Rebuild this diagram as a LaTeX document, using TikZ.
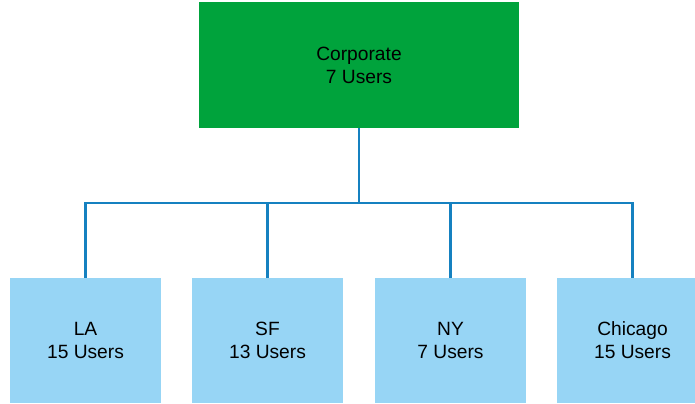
\documentclass[tikz,border=0pt]{standalone}
\usepackage{fontspec}
\setmainfont{Liberation Sans}
\usetikzlibrary{
positioning
}
\definecolor{HQgreen}{HTML}{00A33C}
\definecolor{SiteBlue}{HTML}{97D5F5}
\definecolor{LinkBlue}{HTML}{1581C0}

\tikzset{
    hqbox/.style={
        fill=HQgreen,
        minimum width=240pt,
        minimum height=94.5pt,
        inner sep=0pt,
        align=center
    },
    sitebox/.style={
        fill=SiteBlue,
        minimum width=113.25pt,
        minimum height=93.75pt,
        inner sep=0pt,
        align=center
    },
    link/.style={
        line width=1.6pt,
        draw=LinkBlue
    }
}

\begin{document}
\begin{tikzpicture}[
    x=0.75pt,
    y=-0.75pt,
    font=\fontsize{14.4}{17.3}\selectfont
]

\useasboundingbox (0,0) rectangle (695,403);

% Head office
\node[hqbox]
(corp) at (359,65)
{Corporate\\7 Users};

% Branch offices
\foreach \x/\nm/\lab/\num in {
85.5/la/LA/15,
267.5/sf/SF/13,
450.5/ny/NY/7,
632.5/chi/Chicago/15}{
    \node[sitebox]
    (\nm) at (\x,340.5)
    {\lab\\\num{} Users};
}

% Tree connectors
\foreach \nm in {la,sf,ny,chi}{
    \draw[link]
    (corp.south) -- ++(0,75) -| (\nm.north);
}

\end{tikzpicture}
\end{document}
